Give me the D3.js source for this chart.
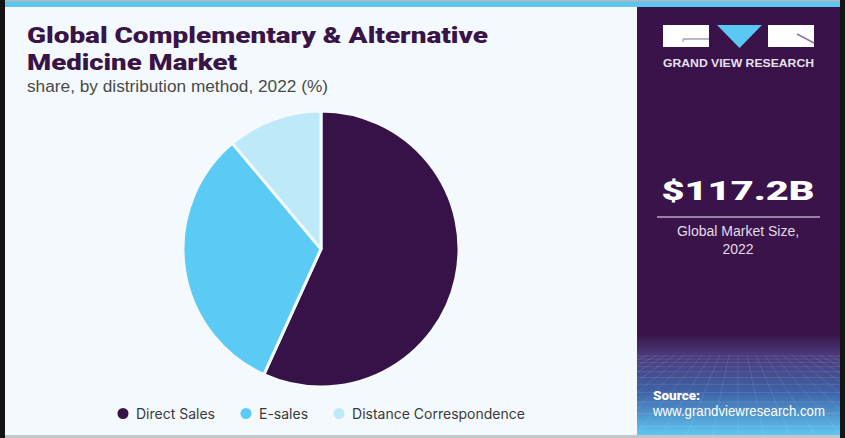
<!DOCTYPE html>
<html>
<head>
<meta charset="utf-8">
<script src="https://cdn.jsdelivr.net/npm/d3@7"></script>
<style>
  html, body { margin: 0; padding: 0; background: #141414; }
  svg { display: block; }
</style>
</head>
<body>
<svg id="chart" width="845" height="438"></svg>
<script>
// ---- data ----
const categories = ["Direct Sales", "E-sales", "Distance Correspondence"];
const shares = [56.8, 32.1, 11.1];
const colors = ["#371249", "#5bcbf5", "#bde9f9"];
const titleLines = ["Global Complementary & Alternative", "Medicine Market"];
const subtitle = "share, by distribution method, 2022 (%)";
const marketSize = "$117.2B";
const marketLabel = ["Global Market Size,", "2022"];
const brand = "GRAND VIEW RESEARCH";
const sourceLines = ["Source:", "www.grandviewresearch.com"];

const svg = d3.select("#chart");
const W = 845, H = 438;
const heavy = "Roboto, 'Liberation Sans', Arial, sans-serif";

// ---- frame & panels ----
svg.append("rect").attr("x", 0).attr("y", 0).attr("width", W).attr("height", H).attr("fill", "#141414");
svg.append("rect").attr("x", 5).attr("y", 0).attr("width", 835).attr("height", 7).attr("fill", "#5ec6ee");
svg.append("rect").attr("x", 5).attr("y", 0).attr("width", 835).attr("height", 1.5).attr("fill", "#aeb8c0");
svg.append("rect").attr("x", 5).attr("y", 7).attr("width", 632).attr("height", 428).attr("fill", "#f4f9fd");
svg.append("rect").attr("x", 5).attr("y", 435).attr("width", 835).attr("height", 3).attr("fill", "#c3c7cc");

// right panel with gradient
const defs = svg.append("defs");
const grad = defs.append("linearGradient").attr("id", "panelGrad")
  .attr("x1", 0).attr("y1", 0).attr("x2", 0).attr("y2", 1);
[[0, "#381249"], [0.765, "#3a1449"], [0.81, "#4a3878"], [0.90, "#3f62a8"], [1, "#5fc6f0"]]
  .forEach(([o, c]) => grad.append("stop").attr("offset", o).attr("stop-color", c));
svg.append("rect").attr("x", 637).attr("y", 7).attr("width", 203).attr("height", 428).attr("fill", "url(#panelGrad)");

// faint perspective grid in the lower part of the panel
defs.append("clipPath").attr("id", "gridClip").append("rect")
  .attr("x", 637).attr("y", 355).attr("width", 203).attr("height", 80);
const gridG = svg.append("g").attr("stroke", "#ffffff").attr("stroke-opacity", 0.13).attr("stroke-width", 0.8)
  .attr("clip-path", "url(#gridClip)");
let yy = 356, step = 3;
while (yy < 436) { gridG.append("line").attr("x1", 637).attr("x2", 840).attr("y1", yy).attr("y2", yy); yy += step; step *= 1.18; }
for (let i = -14; i <= 14; i++) {
  gridG.append("line").attr("x1", 738 + i * 9).attr("y1", 355).attr("x2", 738 + i * 26).attr("y2", 436);
}

// ---- titles ----
const titleG = svg.append("g").attr("fill", "#391447")
  .style("font-family", heavy).style("font-weight", "900");
titleG.append("text").attr("x", 27).attr("y", 43).style("font-size", "21.5px")
  .attr("textLength", 461).attr("lengthAdjust", "spacingAndGlyphs").text(titleLines[0]);
titleG.append("text").attr("x", 27).attr("y", 70).style("font-size", "21.5px")
  .attr("textLength", 210).attr("lengthAdjust", "spacingAndGlyphs").text(titleLines[1]);
svg.append("text").attr("x", 27).attr("y", 92).attr("fill", "#4a4a4a")
  .style("font-family", "'Liberation Sans', Arial, sans-serif").style("font-size", "16px")
  .attr("textLength", 301).attr("lengthAdjust", "spacingAndGlyphs").text(subtitle);

// ---- pie ----
const cx = 321, cy = 249, R = 138;
const pie = d3.pie().sort(null).value(d => d.v);
const arc = d3.arc().innerRadius(0).outerRadius(R);
const data = categories.map((c, i) => ({ name: c, v: shares[i], color: colors[i] }));
svg.append("g").attr("transform", `translate(${cx},${cy})`)
  .selectAll("path").data(pie(data)).join("path")
  .attr("d", arc).attr("fill", d => d.data.color)
  .attr("stroke", "#f4f9fd").attr("stroke-width", 3).attr("stroke-linejoin", "round");

// ---- legend ----
const legend = svg.append("g");
let lx = 123;
data.forEach(d => {
  legend.append("circle").attr("cx", lx).attr("cy", 413.5).attr("r", 5.5).attr("fill", d.color);
  const t = legend.append("text").attr("x", lx + 13).attr("y", 418.5).attr("fill", "#3a3a3a")
    .style("font-family", "Inter, 'Noto Sans', sans-serif").style("font-size", "14px").text(d.name);
  lx += 13 + t.node().getComputedTextLength() + 31;
});

// ---- logo ----
const logo = svg.append("g");
logo.append("rect").attr("x", 663).attr("y", 25).attr("width", 46).attr("height", 22).attr("fill", "#ffffff");
logo.append("line").attr("x1", 683).attr("y1", 39).attr("x2", 709).attr("y2", 39).attr("stroke", "#a99bb6").attr("stroke-width", 1.5);
logo.append("line").attr("x1", 683).attr("y1", 39).attr("x2", 683).attr("y2", 42).attr("stroke", "#a99bb6").attr("stroke-width", 1.2);
logo.append("path").attr("d", "M717,25 L762,25 L739.5,48 Z").attr("fill", "#5bc8f3");
logo.append("rect").attr("x", 768).attr("y", 25).attr("width", 46).attr("height", 22).attr("fill", "#ffffff");
logo.append("line").attr("x1", 797).attr("y1", 34).attr("x2", 814).attr("y2", 43).attr("stroke", "#8c7aa0").attr("stroke-width", 1.5);
svg.append("text").attr("x", 663).attr("y", 67).attr("fill", "#e6e0ec")
  .style("font-family", "'Liberation Sans', Arial, sans-serif").style("font-weight", "bold").style("font-size", "10.5px")
  .attr("textLength", 151).attr("lengthAdjust", "spacingAndGlyphs").text(brand);

// ---- market size ----
svg.append("text").attr("x", 738).attr("y", 200).attr("text-anchor", "middle").attr("fill", "#ffffff")
  .style("font-family", heavy).style("font-weight", "900").style("font-size", "25.5px")
  .attr("textLength", 153).attr("lengthAdjust", "spacingAndGlyphs").text(marketSize);
svg.append("line").attr("x1", 657).attr("x2", 820).attr("y1", 217).attr("y2", 217)
  .attr("stroke", "#b7a7c4").attr("stroke-width", 1.5);
marketLabel.forEach((s, i) => {
  svg.append("text").attr("x", 738).attr("y", 236 + i * 18).attr("text-anchor", "middle").attr("fill", "#e2dce8")
    .style("font-family", "'Liberation Sans', Arial, sans-serif").style("font-size", "14px").text(s);
});

// ---- source ----
svg.append("text").attr("x", 653).attr("y", 400).attr("fill", "#ffffff")
  .style("font-family", heavy).style("font-weight", "900").style("font-size", "13.5px")
  .text(sourceLines[0]);
svg.append("text").attr("x", 653).attr("y", 416).attr("fill", "#ffffff")
  .style("font-family", "'Liberation Sans', Arial, sans-serif").style("font-size", "14px")
  .attr("textLength", 172).attr("lengthAdjust", "spacingAndGlyphs").text(sourceLines[1]);
</script>
</body>
</html>
